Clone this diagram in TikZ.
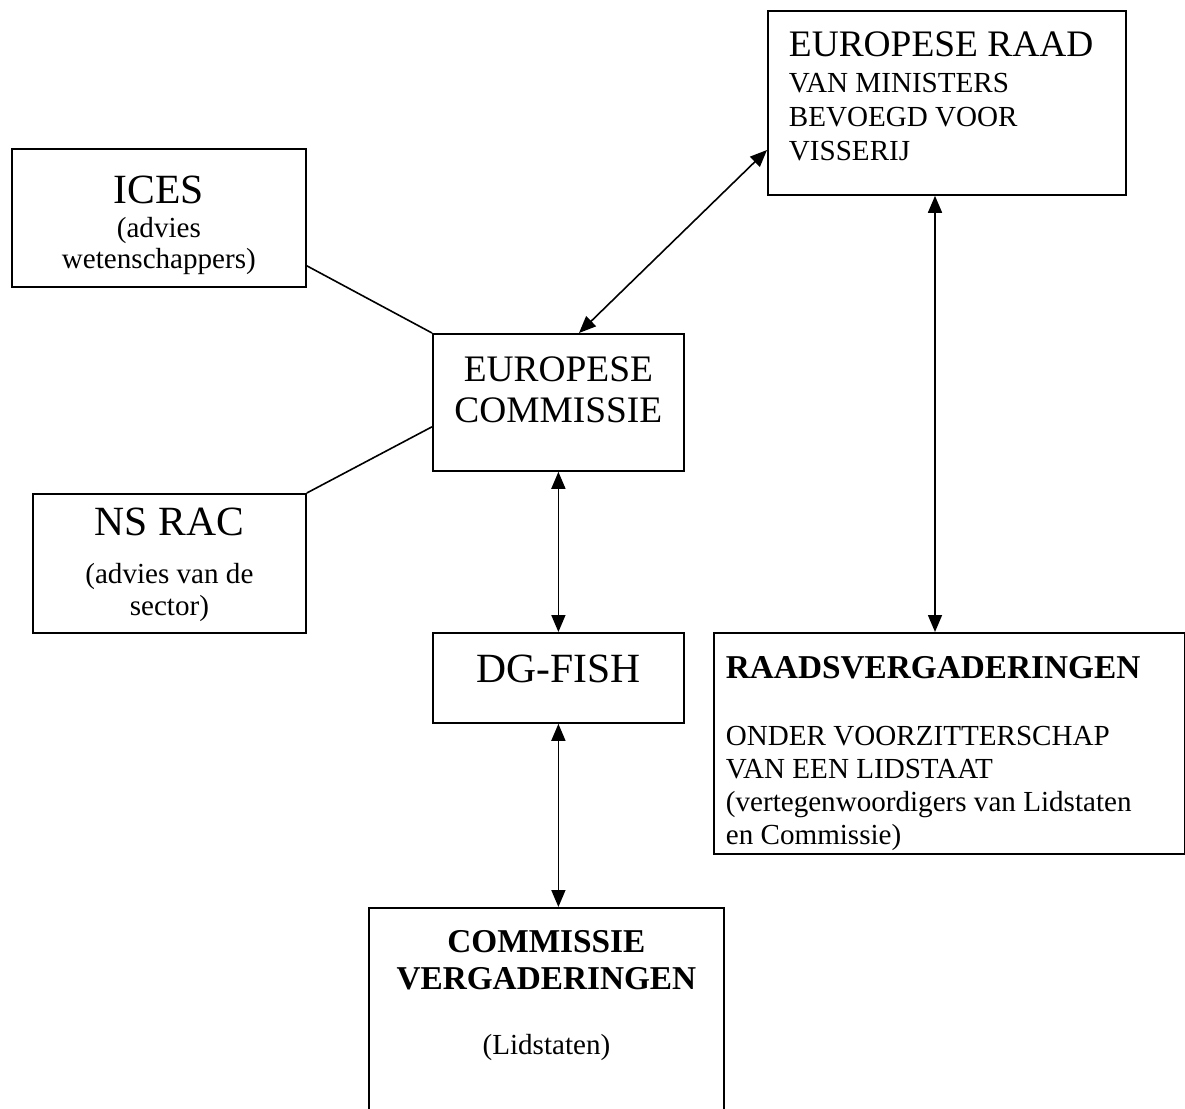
\documentclass[tikz,border=0pt]{standalone}
\usepackage{fontspec}
\setmainfont{Liberation Serif}
\usetikzlibrary{arrows.meta,calc}
\newcommand\TL[3]{{\fontsize{#1}{#2}\selectfont #3\par}}
\tikzset{
  box/.style={draw, line width=1.8pt, inner sep=0pt, anchor=north west},
  dbl/.style={{Triangle[length=17pt,width=14pt]}-{Triangle[length=17pt,width=14pt]}, line width=1.6pt},
  plain/.style={line width=1.6pt}
}
\begin{document}
\begin{tikzpicture}[x=1pt,y=-1pt]
\useasboundingbox (0,0) rectangle (1185,1108);

\node[box] (raad) at (767,10) {\parbox[c][184pt][t]{358pt}{\raggedright\leftskip=21pt\lineskiplimit=-100pt
\TL{37.4}{37}{\rule{0pt}{46pt}EUROPESE RAAD}
\TL{29.1}{36}{VAN MINISTERS}
\TL{29.1}{34}{BEVOEGD VOOR}
\TL{29.1}{34}{VISSERIJ}}};

\node[box] (ices) at (11,148) {\parbox[c][138pt][t]{294pt}{\centering\lineskiplimit=-100pt
\TL{41.6}{40}{\rule{0pt}{55pt}ICES}
\TL{29.1}{34}{(advies}
\TL{29.1}{31}{wetenschappers)}}};

\node[box] (ec) at (432,333) {\parbox[c][137pt][t]{251pt}{\centering\lineskiplimit=-100pt
\TL{37.4}{41}{\rule{0pt}{48pt}EUROPESE}
\TL{37.4}{41}{COMMISSIE}}};

\node[box] (ns) at (32,493) {\parbox[c][139pt][t]{273pt}{\centering\lineskiplimit=-100pt
\TL{41.6}{40}{\rule{0pt}{42pt}NS RAC}
\TL{29.1}{48}{(advies van de}
\TL{29.1}{32}{sector)}}};

\node[box] (dg) at (432,632) {\parbox[c][90pt][t]{251pt}{\centering\lineskiplimit=-100pt
\TL{41.6}{40}{\rule{0pt}{50pt}DG-FISH}}};

\node[box] (rv) at (713,632) {\parbox[c][221pt][t]{471pt}{\raggedright\leftskip=12pt\lineskiplimit=-100pt
\TL{33.3}{35}{\rule{0pt}{46pt}\bfseries RAADSVERGADERINGEN}
\TL{29.1}{67}{ONDER VOORZITTERSCHAP}
\TL{29.1}{33}{VAN EEN LIDSTAAT}
\TL{29.1}{33}{(vertegenwoordigers van Lidstaten}
\TL{29.1}{33}{en Commissie)}}};

\node[box] (cv) at (368,907) {\parbox[c][220pt][t]{355pt}{\centering\lineskiplimit=-100pt
\TL{33.3}{35}{\rule{0pt}{45pt}\bfseries COMMISSIE}
\TL{33.3}{37}{\bfseries VERGADERINGEN}
\TL{29.1}{65}{(Lidstaten)}}};

% connectors
\draw[plain] ($(ices.south east)+(0,-22)$) -- (ec.north west);
\draw[plain] (ns.north east) -- ($(ec.south west)+(0,-45)$);
\draw[dbl] ($(ec.north west)+(147,0)$) -- ($(raad.north west)+(0,140)$);
\draw[dbl] (ec.south) -- (dg.north);
\draw[dbl] (dg.south) -- (dg.south |- cv.north);
\coordinate (rtop) at ($(raad.south west)+(168,0)$);
\draw[dbl] (rtop) -- (rtop |- rv.north);
\end{tikzpicture}
\end{document}
